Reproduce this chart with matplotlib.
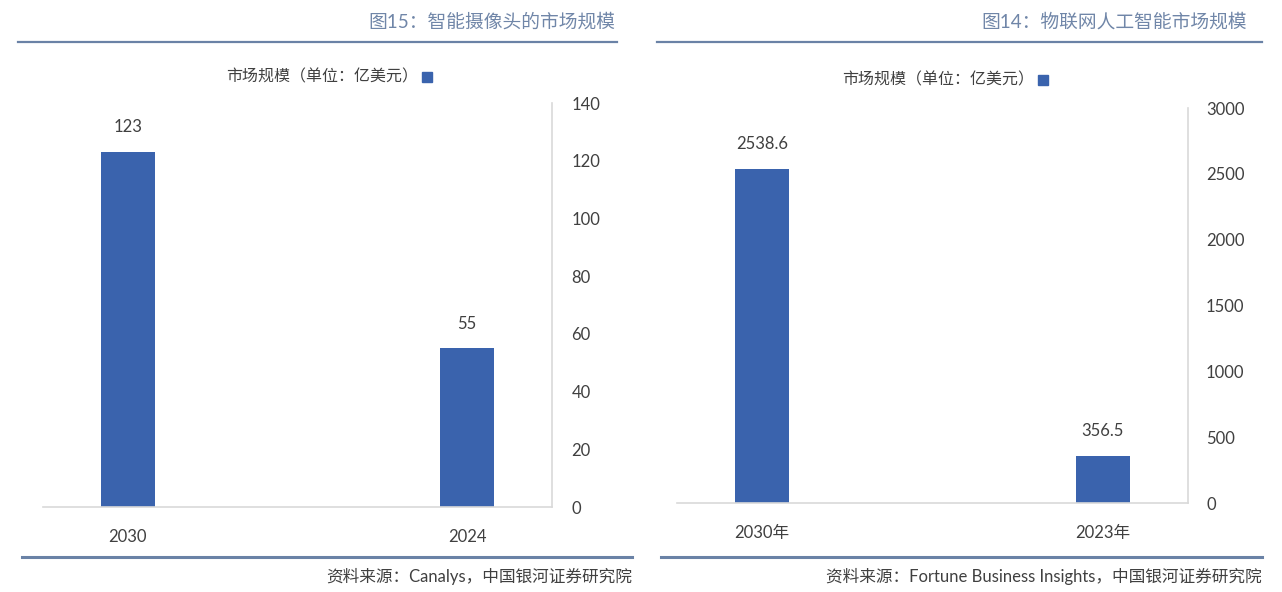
import matplotlib.pyplot as plt
from matplotlib.lines import Line2D
from matplotlib.patches import Rectangle

plt.rcParams['font.family'] = ['Lato', 'Noto Sans CJK SC', 'DejaVu Sans']

# left panel: smart cameras
cam_years = ['2030', '2024']
cam_values = [123, 55]
cam_ticks = [0, 20, 40, 60, 80, 100, 120, 140]

# right panel: AIoT
aiot_years = ['2030年', '2023年']
aiot_values = [2538.6, 356.5]
aiot_ticks = [0, 500, 1000, 1500, 2000, 2500, 3000]

series_name = '市场规模（单位：亿美元）'
bar_color = '#3a63ad'
title_color = '#7086a8'
text_color = '#404040'
rule_color = '#6a82a6'

W, H = 1282, 592
fig = plt.figure(figsize=(W / 100, H / 100), dpi=100)


def fx(px):
    return px / W


def fy(py):
    return 1 - py / H


def panel(x0, x1, ytop, ybot, cats, vals, ticks, fmt,
          title, title_x, rule_x, legend_x, legend_y, source, src_x, tick_pad):
    ax = fig.add_axes([fx(x0), fy(ybot), fx(x1 - x0), fy(ytop) - fy(ybot)])
    pos = range(len(cats))
    ax.bar(pos, vals, width=0.16, color=bar_color)
    ax.set_xlim(-0.25, 1.25)
    ax.set_ylim(ticks[0], ticks[-1])
    ax.set_yticks(ticks)
    ax.yaxis.tick_right()
    ax.set_xticks(list(pos))
    ax.set_xticklabels(cats)
    ax.tick_params(axis='both', length=0, labelsize=12, colors=text_color)
    ax.tick_params(axis='y', pad=tick_pad)
    ax.tick_params(axis='x', pad=16)
    for s in ['top', 'left']:
        ax.spines[s].set_visible(False)
    for s in ['right', 'bottom']:
        ax.spines[s].set_color('#d9d9d9')
        ax.spines[s].set_linewidth(1.2)
    for p, v in zip(pos, vals):
        ax.annotate(fmt(v), (p, v), xytext=(0, 12), textcoords='offset points',
                    ha='center', va='bottom', fontsize=12, color=text_color)

    fig.text(fx(title_x), fy(22), title, ha='right', va='center',
             fontsize=13.5, color=title_color)
    fig.add_artist(Line2D([fx(rule_x[0]), fx(rule_x[1])], [fy(42), fy(42)],
                          color=rule_color, lw=1.6))
    fig.add_artist(Line2D([fx(rule_x[0] + 4), fx(src_x)], [fy(557), fy(557)],
                          color=rule_color, lw=2.2))
    fig.text(fx(src_x), fy(576), source, ha='right', va='center',
             fontsize=12, color=text_color)

    # legend: marker on the right of the label, as in the reference
    fig.add_artist(Rectangle((fx(legend_x), fy(legend_y + 5)), fx(10), fy(0) - fy(10),
                             color=bar_color, transform=fig.transFigure))
    fig.text(fx(legend_x - 4), fy(legend_y), series_name, ha='right', va='center',
             fontsize=11.5, color=text_color)
    return ax


panel(43, 552, 103, 507, cam_years, cam_values, cam_ticks, lambda v: f'{v:g}',
      '图15：智能摄像头的市场规模', 615, (18, 617), 422, 77,
      '资料来源：Canalys，中国银河证券研究院', 632, 14)

panel(677, 1188, 108, 503, aiot_years, aiot_values, aiot_ticks, lambda v: f'{v:g}',
      '图14：物联网人工智能市场规模', 1247, (657, 1262), 1038, 80,
      '资料来源：Fortune Business Insights，中国银河证券研究院', 1262, 13)

fig.savefig('out.png', dpi=100)
